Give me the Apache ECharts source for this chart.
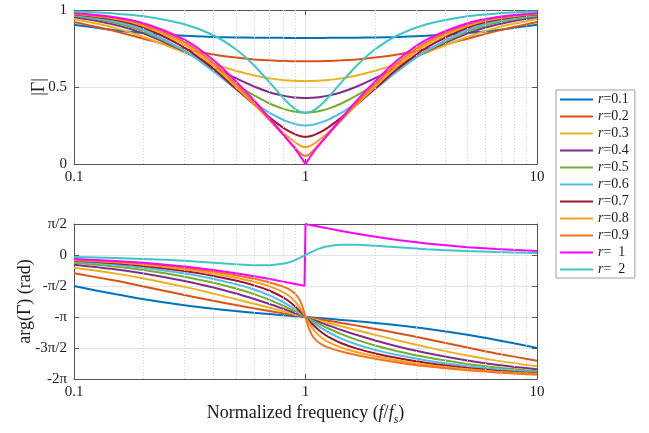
<!DOCTYPE html>
<html>
<head>
<meta charset="utf-8">
<script src="https://cdn.jsdelivr.net/npm/echarts@6/dist/echarts.min.js"></script>
<style>html,body{margin:0;padding:0;background:#fff;}#c{width:649px;height:433px;}</style>
</head>
<body>
<div id="c"></div>
<script>
// ---- data ----
const freq = [0.1,0.15,0.2,0.3,0.4,0.5,0.6,0.7,0.8,0.85,0.9,0.94,0.97,0.99,1,1.0101,1.0309,1.0638,1.1111,1.1765,1.25,1.4286,1.6667,2,2.5,3.3333,5,6.6667,10];
const freqJump = [0.1,0.15,0.2,0.3,0.4,0.5,0.6,0.7,0.8,0.85,0.9,0.94,0.97,0.99,1,1,1.0101,1.0309,1.0638,1.1111,1.1765,1.25,1.4286,1.6667,2,2.5,3.3333,5,6.6667,10];
const names = ['r=0.1','r=0.2','r=0.3','r=0.4','r=0.5','r=0.6','r=0.7','r=0.8','r=0.9','r=  1','r=  2'];
const colors = ['#0072BD','#D95319','#EDB120','#7E2F8E','#77AC30','#4DBEEE','#A2142F','#FBA01A','#F4731F','#FF00FF','#3CC6C8'];

const mag01 = [0.904,0.869,0.850,0.832,0.825,0.822,0.820,0.819,0.819,0.818,0.818,0.818,0.818,0.818,0.818,0.818,0.818,0.818,0.818,0.818,0.819,0.819,0.820,0.822,0.825,0.832,0.850,0.869,0.904];
const mag02 = [0.922,0.863,0.813,0.747,0.711,0.691,0.679,0.673,0.669,0.668,0.667,0.667,0.667,0.667,0.667,0.667,0.667,0.667,0.667,0.668,0.669,0.673,0.679,0.691,0.711,0.747,0.813,0.863,0.922];
const mag03 = [0.941,0.884,0.825,0.724,0.652,0.605,0.575,0.556,0.545,0.542,0.540,0.539,0.539,0.538,0.538,0.538,0.539,0.539,0.540,0.542,0.545,0.556,0.575,0.605,0.652,0.724,0.825,0.884,0.941];
const mag04 = [0.954,0.904,0.847,0.731,0.632,0.557,0.503,0.466,0.444,0.437,0.432,0.430,0.429,0.429,0.429,0.429,0.429,0.430,0.432,0.437,0.444,0.466,0.503,0.557,0.632,0.731,0.847,0.904,0.954];
const mag05 = [0.962,0.917,0.860,0.733,0.614,0.517,0.445,0.393,0.358,0.347,0.340,0.336,0.334,0.333,0.333,0.333,0.334,0.336,0.340,0.347,0.358,0.393,0.445,0.517,0.614,0.733,0.860,0.917,0.962];
const mag06 = [0.968,0.927,0.870,0.736,0.602,0.487,0.400,0.332,0.287,0.272,0.260,0.254,0.251,0.250,0.250,0.250,0.251,0.254,0.260,0.272,0.287,0.332,0.400,0.487,0.602,0.736,0.870,0.927,0.968];
const mag07 = [0.972,0.936,0.885,0.756,0.618,0.490,0.387,0.301,0.236,0.212,0.194,0.183,0.178,0.177,0.176,0.177,0.178,0.183,0.194,0.212,0.236,0.301,0.387,0.490,0.618,0.756,0.885,0.936,0.972];
const mag08 = [0.975,0.943,0.896,0.775,0.636,0.502,0.388,0.286,0.203,0.170,0.141,0.123,0.114,0.111,0.111,0.111,0.114,0.123,0.141,0.170,0.203,0.286,0.388,0.502,0.636,0.775,0.896,0.943,0.975];
const mag09 = [0.978,0.949,0.906,0.792,0.656,0.519,0.398,0.286,0.190,0.147,0.107,0.077,0.060,0.053,0.053,0.053,0.060,0.077,0.107,0.147,0.190,0.286,0.398,0.519,0.656,0.792,0.906,0.949,0.978];
const mag10 = [0.980,0.953,0.914,0.807,0.675,0.538,0.413,0.296,0.192,0.145,0.099,0.060,0.030,0.010,0,0.010,0.030,0.060,0.099,0.145,0.192,0.296,0.413,0.538,0.675,0.807,0.914,0.953,0.980];
const mag20 = [0.990,0.977,0.960,0.908,0.836,0.745,0.640,0.530,0.430,0.389,0.358,0.342,0.336,0.334,0.333,0.334,0.336,0.342,0.358,0.389,0.430,0.530,0.640,0.745,0.836,0.908,0.960,0.977,0.990];

const ph01 = [-1.576,-1.980,-2.240,-2.547,-2.724,-2.841,-2.927,-2.995,-3.051,-3.076,-3.099,-3.117,-3.129,-3.138,-3.142,-3.145,-3.154,-3.166,-3.184,-3.207,-3.232,-3.288,-3.356,-3.442,-3.559,-3.736,-4.043,-4.303,-4.707];
const ph02 = [-0.929,-1.295,-1.591,-2.025,-2.321,-2.538,-2.705,-2.841,-2.955,-3.006,-3.054,-3.090,-3.116,-3.133,-3.142,-3.150,-3.167,-3.193,-3.229,-3.277,-3.328,-3.442,-3.578,-3.745,-3.962,-4.258,-4.692,-4.988,-5.354];
const ph03 = [-0.644,-0.931,-1.187,-1.616,-1.958,-2.237,-2.471,-2.672,-2.848,-2.927,-3.003,-3.060,-3.101,-3.128,-3.142,-3.155,-3.182,-3.223,-3.280,-3.356,-3.435,-3.611,-3.812,-4.046,-4.325,-4.667,-5.096,-5.352,-5.639];
const ph04 = [-0.490,-0.719,-0.933,-1.316,-1.651,-1.951,-2.228,-2.484,-2.722,-2.834,-2.942,-3.024,-3.084,-3.122,-3.142,-3.161,-3.199,-3.259,-3.341,-3.449,-3.561,-3.799,-4.055,-4.332,-4.632,-4.967,-5.350,-5.564,-5.793];
const ph05 = [-0.395,-0.584,-0.764,-1.098,-1.404,-1.695,-1.982,-2.274,-2.570,-2.718,-2.863,-2.977,-3.060,-3.115,-3.142,-3.168,-3.223,-3.306,-3.420,-3.565,-3.713,-4.009,-4.301,-4.588,-4.879,-5.185,-5.519,-5.699,-5.888];
const ph06 = [-0.330,-0.490,-0.645,-0.937,-1.211,-1.477,-1.749,-2.045,-2.381,-2.564,-2.756,-2.912,-3.028,-3.104,-3.142,-3.179,-3.255,-3.371,-3.527,-3.719,-3.902,-4.238,-4.534,-4.806,-5.072,-5.346,-5.638,-5.793,-5.953];
const ph07 = [-0.284,-0.422,-0.557,-0.815,-1.059,-1.296,-1.539,-1.811,-2.149,-2.357,-2.597,-2.809,-2.975,-3.086,-3.142,-3.197,-3.308,-3.474,-3.686,-3.926,-4.134,-4.472,-4.744,-4.987,-5.224,-5.468,-5.726,-5.861,-5.999];
const ph08 = [-0.249,-0.371,-0.490,-0.720,-0.938,-1.148,-1.358,-1.588,-1.881,-2.080,-2.347,-2.627,-2.875,-3.052,-3.142,-3.231,-3.408,-3.656,-3.936,-4.203,-4.402,-4.695,-4.925,-5.135,-5.345,-5.563,-5.793,-5.912,-6.034];
const ph09 = [-0.221,-0.330,-0.437,-0.645,-0.841,-1.027,-1.207,-1.390,-1.603,-1.745,-1.956,-2.244,-2.611,-2.953,-3.142,-3.330,-3.672,-4.039,-4.327,-4.538,-4.680,-4.893,-5.076,-5.256,-5.442,-5.638,-5.846,-5.953,-6.062];
const ph10 = [-0.199,-0.298,-0.395,-0.583,-0.761,-0.927,-1.081,-1.221,-1.349,-1.409,-1.466,-1.509,-1.540,-1.561,-1.571,1.571,1.561,1.540,1.509,1.466,1.409,1.349,1.221,1.081,0.927,0.761,0.583,0.395,0.298,0.199];
const ph20 = [-0.100,-0.150,-0.199,-0.296,-0.387,-0.464,-0.514,-0.517,-0.441,-0.364,-0.260,-0.160,-0.081,-0.027,0,0.027,0.081,0.160,0.260,0.364,0.441,0.517,0.514,0.464,0.387,0.296,0.199,0.150,0.100];

const magTickLabels = ['0','0.5','1'];
const phaseTickLabels = ['-2π','-3π/2','-π','-π/2','0','π/2'];
const minorFreq = [0.2,0.3,0.4,0.5,0.6,0.7,0.8,0.9,2,3,4,5,6,7,8,9];

const magAll = [mag01,mag02,mag03,mag04,mag05,mag06,mag07,mag08,mag09,mag10,mag20];
const phAll = [ph01,ph02,ph03,ph04,ph05,ph06,ph07,ph08,ph09,ph10,ph20];

// ---- chart ----
const FONT = 'Liberation Serif';
const TXT = '#1a1a1a';
const AX = '#555';
const chart = echarts.init(document.getElementById('c'), null, {renderer: 'canvas'});
const HP = Math.PI / 2;

function xAx(gi, pos, showLabel, name) {
  return {
    type: 'log', logBase: 10, min: 0.1, max: 10, gridIndex: gi, position: pos,
    axisLine: {show: true, onZero: false, lineStyle: {color: AX, width: 1}},
    axisTick: {show: true, inside: true, length: 5, lineStyle: {color: AX}},
    axisLabel: {show: showLabel, color: TXT, fontFamily: FONT, fontSize: 15, margin: 6},
    splitLine: {show: pos === 'bottom', lineStyle: {color: '#e3e3e3', width: 1}},
    minorTick: {show: false},
    name: name || '', nameLocation: 'middle', nameGap: 21, nameMoveOverlap: false,
    nameTextStyle: {color: TXT, fontFamily: FONT, fontSize: 18,
      rich: {i: {fontStyle: 'italic', fontFamily: FONT, fontSize: 18, color: TXT},
             s: {fontStyle: 'italic', fontFamily: FONT, fontSize: 12, color: TXT, padding: [14, 0, 0, 0]}}}
  };
}
function yAx(gi, pos, showLabel, min, max, interval, labels, name, gap) {
  return {
    type: 'value', gridIndex: gi, position: pos, min: min, max: max, interval: interval,
    axisLine: {show: true, onZero: false, lineStyle: {color: AX, width: 1}},
    axisTick: {show: true, inside: true, length: 5, lineStyle: {color: AX}},
    axisLabel: {show: showLabel, color: TXT, fontFamily: FONT, fontSize: 15, margin: 7,
      formatter: v => labels[Math.round((v - min) / interval)]},
    splitLine: {show: pos === 'left', lineStyle: {color: '#e3e3e3', width: 1}},
    name: name || '', nameLocation: 'middle', nameGap: gap || 30, nameRotate: 90, nameMoveOverlap: false,
    nameTextStyle: {color: TXT, fontFamily: FONT, fontSize: 18}
  };
}

const series = [];
// minor (dotted) vertical grid lines for each panel
[0, 1].forEach(gi => {
  series.push({
    type: 'line', xAxisIndex: gi * 2, yAxisIndex: gi * 2, data: [], silent: true, z: 1,
    markLine: {silent: true, symbol: ['none', 'none'], label: {show: false}, animation: false,
      lineStyle: {type: [1, 2], color: '#cfcfcf', width: 1},
      data: minorFreq.map(v => ({xAxis: v}))}
  });
});
names.forEach((n, k) => {
  series.push({
    name: n, type: 'line', xAxisIndex: 0, yAxisIndex: 0, showSymbol: false, symbol: 'none',
    smooth: 0.3, clip: false, z: 3, animation: false,
    lineStyle: {color: colors[k], width: 2}, itemStyle: {color: colors[k]},
    data: freq.map((f, i) => [f, magAll[k][i]])
  });
  const fx = (k === 9) ? freqJump : freq;
  series.push({
    name: n, type: 'line', xAxisIndex: 2, yAxisIndex: 2, showSymbol: false, symbol: 'none',
    smooth: (k === 9) ? false : 0.3, clip: false, z: 3, animation: false,
    lineStyle: {color: colors[k], width: 2}, itemStyle: {color: colors[k]},
    data: fx.map((f, i) => [f, phAll[k][i]])
  });
});

chart.setOption({
  animation: false,
  backgroundColor: '#fff',
  grid: [
    {left: 74, right: 112, top: 10, height: 154},
    {left: 74, right: 112, top: 224, height: 155}
  ],
  xAxis: [
    xAx(0, 'bottom', true), xAx(0, 'top', false),
    xAx(1, 'bottom', true, 'Normalized frequency ({i|f}/{i|f}{s|s})'), xAx(1, 'top', false)
  ],
  yAxis: [
    yAx(0, 'left', true, 0, 1, 0.5, magTickLabels, '|Γ|', 26), yAx(0, 'right', false, 0, 1, 0.5, magTickLabels),
    yAx(1, 'left', true, -2 * Math.PI, HP, HP, phaseTickLabels, 'arg(Γ) (rad)', 40), yAx(1, 'right', false, -2 * Math.PI, HP, HP, phaseTickLabels)
  ],
  legend: {
    data: names, orient: 'vertical', left: 556, top: 90,
    icon: 'rect', itemWidth: 33, itemHeight: 2, itemGap: 2,
    padding: [2, 6, 1, 4], borderColor: '#a0a0a0', borderWidth: 1, backgroundColor: '#fff',
    textStyle: {color: TXT, fontFamily: FONT, fontSize: 14, lineHeight: 15,
      rich: {i: {fontStyle: 'italic', fontFamily: FONT, fontSize: 14, color: TXT, lineHeight: 15}}},
    formatter: n => '{i|r}' + n.slice(1)
  },
  series: series
});
</script>
</body>
</html>
